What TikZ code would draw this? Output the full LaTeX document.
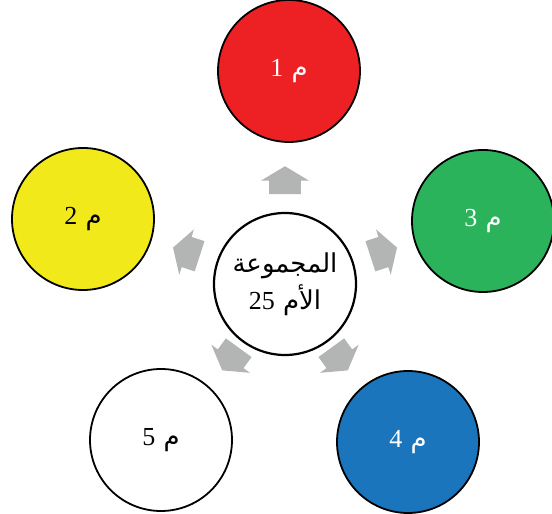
\documentclass[tikz,border=0pt]{standalone}
\usepackage{fontspec}
\setmainfont{Liberation Serif}
\newfontfamily\arabicfont[Script=Arabic]{DejaVu Sans}
\TeXXeTstate=1
\usetikzlibrary{shapes.arrows, positioning, calc}

\definecolor{grpred}{HTML}{ED2024}
\definecolor{grpyellow}{HTML}{F2E91A}
\definecolor{grpgreen}{HTML}{2AB35A}
\definecolor{grpblue}{HTML}{1B75BC}
\definecolor{arrowgray}{HTML}{B3B4B4}

\newcommand{\grplabel}[1]{\arabicfont\beginR م \beginL{\rmfamily #1}\endL\endR}

\begin{document}
\begin{tikzpicture}[
        x=0.5pt, y=0.5pt,
        subgrp/.style={circle, draw=black, line width=0.9pt, minimum size=71pt, inner sep=0pt, align=center, font=\fontsize{13}{18.5}\selectfont},
        mother/.style={subgrp, line width=1.1pt, fill=white},
        outarrow/.style={single arrow, fill=arrowgray, draw=none, minimum height=14pt, minimum width=23.5pt, single arrow head extend=4pt, single arrow tip angle=118, inner xsep=0pt, inner ysep=7.75pt}
    ]
        \useasboundingbox (0,0) rectangle (552,514);

        % Mother group
        \node[mother] (mid) at (285,230) {{\arabicfont\beginR المجموعة\endR}\\{\arabicfont\beginR الأم \beginL{\rmfamily 25}\endL\endR}};

        % Sub groups
        \node[subgrp, fill=grpred, text=white] (m1) at (289,443) {\grplabel{1}};
        \node[subgrp, fill=grpyellow] (m2) at (83,295) {\grplabel{2}};
        \node[subgrp, fill=grpgreen, text=white] (m3) at (483,293) {\grplabel{3}};
        \node[subgrp, fill=grpblue, text=white] (m4) at (408,72) {\grplabel{4}};
        \node[subgrp, fill=white] (m5) at (161,74) {\grplabel{5}};

        % Arrows
        \foreach \ang/\dist [count=\i] in {90/99, 162/99, 18/99, 306/88, 234/88}
            \node[outarrow, rotate=\ang] (a\i) at ($(mid)+(\ang:\dist)$) {};
    \end{tikzpicture}
\end{document}
